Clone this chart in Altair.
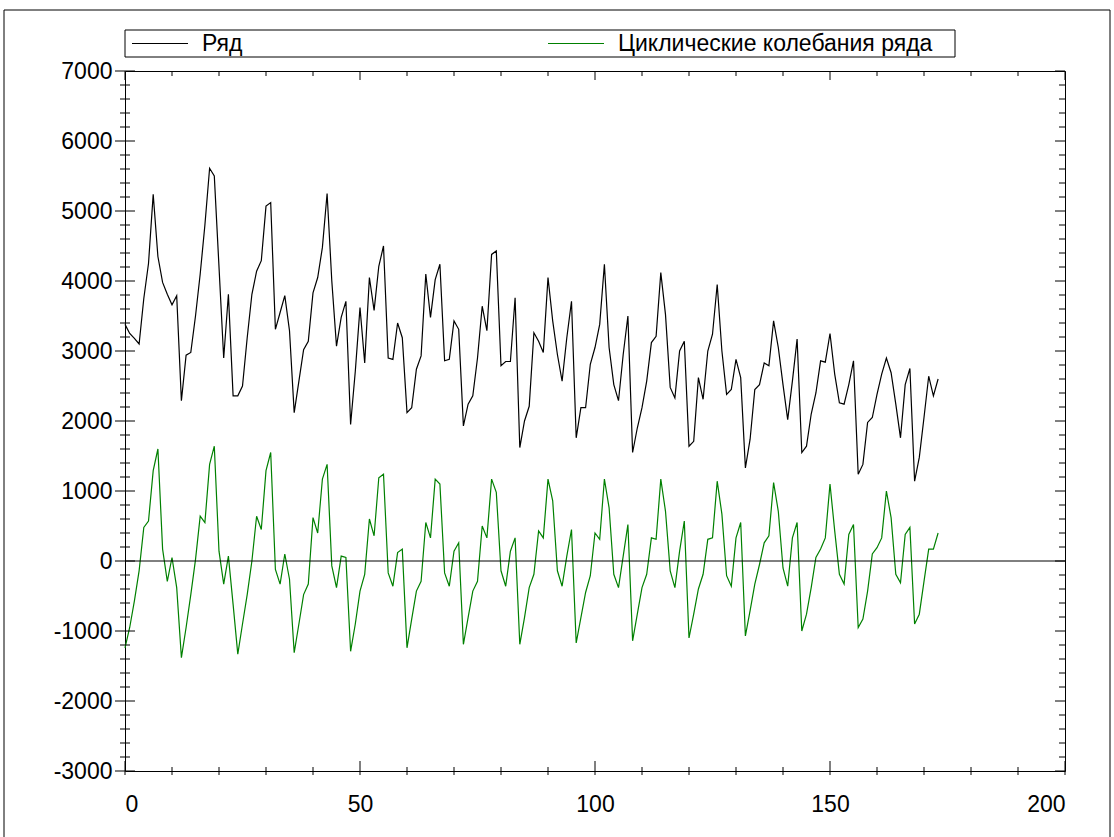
import altair as alt
import pandas as pd

# Series names (legend order)
SERIES = ["Ряд", "Циклические колебания ряда"]

# Observed series, t = 0 .. 173
ROW = [
    3380, 3250, 3180, 3100, 3750, 4250, 5240, 4350, 3980, 3810, 3660, 3790,
    2290, 2940, 2980, 3500, 4100, 4800, 5610, 5500, 4200, 2900, 3810, 2360,
    2360, 2500, 3190, 3810, 4140, 4290, 5070, 5120, 3310, 3550, 3790, 3290,
    2120, 2570, 3020, 3140, 3830, 4050, 4480, 5250, 4000, 3070, 3480, 3710,
    1950, 2710, 3620, 2830, 4050, 3580, 4210, 4500, 2900, 2880, 3400, 3190,
    2120, 2190, 2740, 2930, 4100, 3480, 4020, 4240, 2860, 2880, 3430, 3310,
    1930, 2240, 2360, 2900, 3640, 3290, 4380, 4430, 2790, 2850, 2850, 3760,
    1620, 2000, 2210, 3260, 3140, 2980, 4050, 3430, 2950, 2570, 3190, 3710,
    1760, 2190, 2190, 2810, 3050, 3380, 4240, 3050, 2520, 2290, 2950, 3500,
    1550, 1900, 2190, 2570, 3120, 3210, 4120, 3520, 2480, 2330, 3000, 3140,
    1640, 1710, 2620, 2310, 3000, 3240, 3950, 3000, 2380, 2450, 2880, 2620,
    1330, 1740, 2450, 2520, 2830, 2790, 3430, 3050, 2520, 2020, 2570, 3170,
    1550, 1640, 2100, 2400, 2860, 2840, 3250, 2670, 2260, 2240, 2520, 2860,
    1240, 1380, 1980, 2050, 2380, 2670, 2900, 2690, 2240, 1760, 2520, 2750,
    1140, 1480, 2050, 2640, 2360, 2600,
]

# Cyclic component of the series, t = 0 .. 173
CYCLE = [
    -1240, -950, -570, -140, 480, 570, 1290, 1600, 170, -290, 50, -380,
    -1380, -950, -480, 20, 640, 550, 1380, 1640, 140, -330, 70, -620,
    -1330, -900, -480, 0, 640, 450, 1290, 1550, -120, -330, 100, -260,
    -1310, -900, -480, -330, 620, 400, 1170, 1380, -70, -380, 70, 50,
    -1290, -900, -430, -190, 600, 360, 1190, 1240, -170, -360, 120, 170,
    -1240, -830, -430, -290, 550, 330, 1170, 1100, -170, -360, 140, 260,
    -1190, -810, -430, -290, 500, 330, 1170, 980, -140, -360, 140, 330,
    -1190, -810, -380, -190, 430, 330, 1170, 860, -140, -360, 70, 450,
    -1170, -810, -450, -210, 400, 310, 1170, 760, -190, -380, 70, 520,
    -1140, -760, -380, -190, 330, 310, 1170, 710, -140, -380, 140, 570,
    -1100, -760, -400, -190, 310, 330, 1140, 670, -210, -360, 330, 550,
    -1070, -710, -330, -50, 260, 360, 1120, 710, -100, -360, 330, 550,
    -1000, -760, -380, 50, 170, 330, 1100, 430, -190, -330, 380, 520,
    -950, -830, -430, 100, 190, 330, 1000, 620, -190, -310, 380, 480,
    -900, -760, -290, 170, 170, 400,
]

X_LABELS = [0, 50, 100, 150, 200]
Y_LABELS = list(range(-3000, 7001, 1000))
X_TICKS = list(range(0, 201, 10))
Y_TICKS = list(range(-3000, 7001, 200))

COLORS = ["#000000", "#008000"]
FONT = "Liberation Sans"

W, H = 940, 700
LEFT, TOP = 125, 71

xs = alt.Scale(domain=[0, 200], nice=False, zero=False)
ys = alt.Scale(domain=[-3000, 7000], nice=False, zero=False)

x_axis = alt.Axis(values=X_LABELS, title=None, domain=False, ticks=False, grid=False,
                  labelFont=FONT, labelFontSize=23, labelColor="#000",
                  labelPadding=22, labelExpr="'' + datum.value")
y_axis = alt.Axis(values=Y_LABELS, title=None, domain=False, ticks=False, grid=False,
                  labelFont=FONT, labelFontSize=23, labelColor="#000",
                  labelPadding=13, labelExpr="'' + datum.value")

df = pd.DataFrame({
    "t": list(range(len(ROW))) + list(range(len(CYCLE))),
    "v": ROW + CYCLE,
    "s": [SERIES[0]] * len(ROW) + [SERIES[1]] * len(CYCLE),
})

lines = alt.Chart(df).mark_line(strokeWidth=1.2).encode(
    x=alt.X("t:Q", scale=xs, axis=x_axis),
    y=alt.Y("v:Q", scale=ys, axis=y_axis),
    color=alt.Color("s:N", scale=alt.Scale(domain=SERIES, range=COLORS), legend=None),
)

zero = alt.Chart(pd.DataFrame({"v": [0]})).mark_rule(color="#000", strokeWidth=1).encode(
    y=alt.Y("v:Q", scale=ys, axis=y_axis)
)

# Tick marks on all four sides of the plot box
yt = pd.DataFrame({"v": Y_TICKS})
xt = pd.DataFrame({"t": X_TICKS})
is_y_major = "datum.v % 1000 == 0"
is_x_major = "datum.t % 50 == 0"


def yticks(x0, x1, major):
    base = alt.Chart(yt).transform_filter(is_y_major if major else "!(" + is_y_major + ")")
    return base.mark_rule(color="#000", strokeWidth=1).encode(
        y=alt.Y("v:Q", scale=ys, axis=y_axis), x=alt.value(x0), x2=alt.value(x1))


def xticks(y0, y1, major):
    base = alt.Chart(xt).transform_filter(is_x_major if major else "!(" + is_x_major + ")")
    return base.mark_rule(color="#000", strokeWidth=1).encode(
        x=alt.X("t:Q", scale=xs, axis=x_axis), y=alt.value(y0), y2=alt.value(y1))


ticks = [
    yticks(-5, 5, False), yticks(-10, 10, True),
    yticks(W - 6, W, False), yticks(W - 10, W, True),
    xticks(H - 4, H + 4, False), xticks(H - 10, H + 4, True),
    xticks(0, 5, False), xticks(0, 9, True),
]

one = pd.DataFrame({"a": [0]})

# Outer frame around the whole figure
frame = alt.Chart(one).mark_rect(fill="transparent", stroke="#000", strokeWidth=1).encode(
    x=alt.value(4 - LEFT), x2=alt.value(1110 - LEFT),
    y=alt.value(10 - TOP), y2=alt.value(900 - TOP),
)

# Legend box above the plot
leg_box = alt.Chart(one).mark_rect(fill="white", stroke="#000", strokeWidth=1).encode(
    x=alt.value(0), x2=alt.value(830), y=alt.value(-41), y2=alt.value(-14),
)
leg_y = -27.5
leg_items = []
for name, color, lx in zip(SERIES, COLORS, [7, 423]):
    leg_items.append(
        alt.Chart(one).mark_rule(color=color, strokeWidth=1).encode(
            x=alt.value(lx), x2=alt.value(lx + 56), y=alt.value(leg_y))
    )
    leg_items.append(
        alt.Chart(pd.DataFrame({"label": [name]})).mark_text(
            font=FONT, fontSize=23, color="#000", align="left", baseline="middle"
        ).encode(text="label:N", x=alt.value(lx + 70), y=alt.value(leg_y))
    )

chart = alt.layer(
    lines, zero, *ticks, frame, leg_box, *leg_items
).properties(
    width=W, height=H,
    autosize=alt.AutoSizeParams(type="none"),
    padding={"left": LEFT, "top": TOP, "right": 1114 - LEFT - W, "bottom": 837 - TOP - H},
    background="white",
).configure_view(stroke="#000", strokeWidth=1)

chart.save("out.html", embed_options={"renderer": "svg", "actions": False})
